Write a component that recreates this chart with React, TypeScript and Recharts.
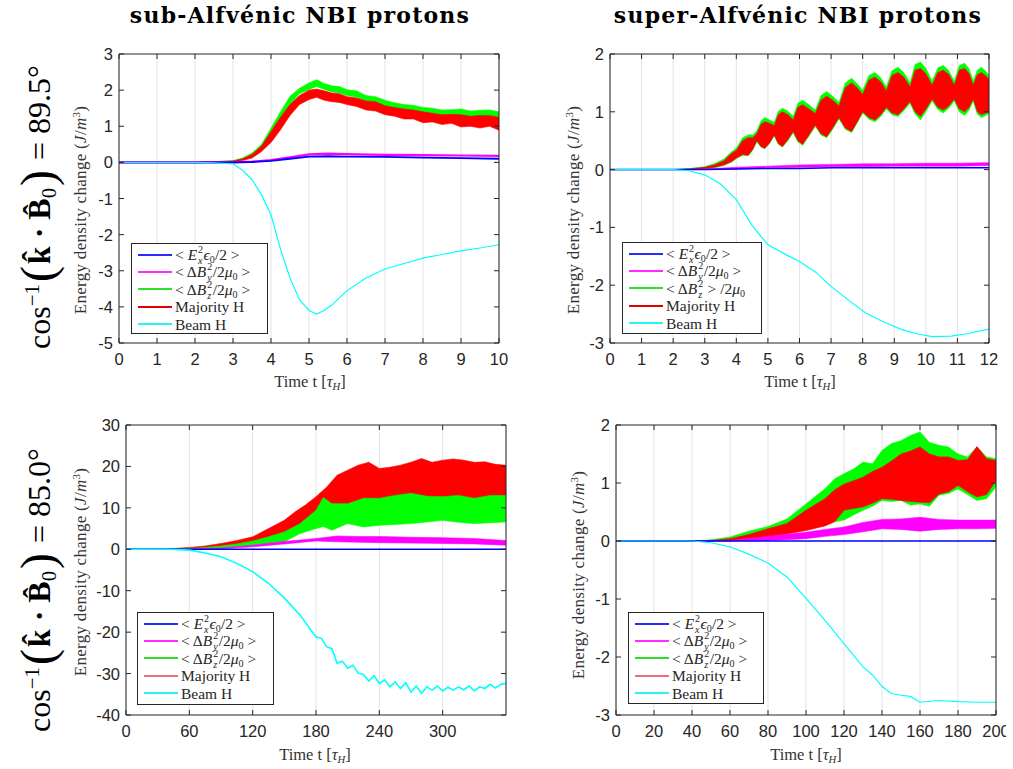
import React from 'react';
import { ComposedChart, Area, Line, XAxis, YAxis, CartesianGrid, ReferenceLine } from 'recharts';

// ---------------- Panel 1: sub-Alfvenic, 89.5 deg ----------------
const P1_BAND_T = [0, 2, 2.5, 3, 3.25, 3.5, 3.75, 4, 4.25, 4.5, 4.75, 5, 5.2, 5.4, 5.6, 5.8, 6, 6.25, 6.5, 6.75, 7, 7.25, 7.5, 7.75, 8, 8.25, 8.5, 8.75, 9, 9.25, 9.5, 9.75, 10];
const P1_GREEN_HI = [0.01, 0.01, 0.02, 0.05, 0.12, 0.26, 0.5, 0.95, 1.4, 1.83, 2.05, 2.2, 2.29, 2.18, 2.12, 2.1, 2.01, 1.98, 1.85, 1.82, 1.72, 1.65, 1.6, 1.58, 1.52, 1.5, 1.45, 1.46, 1.48, 1.42, 1.44, 1.45, 1.4];
const P1_GREEN_LO = [-0.01, -0.01, 0, 0.02, 0.08, 0.18, 0.4, 0.8, 1.2, 1.6, 1.9, 2.02, 2.1, 2.02, 1.95, 1.92, 1.85, 1.8, 1.7, 1.66, 1.56, 1.5, 1.45, 1.42, 1.37, 1.35, 1.3, 1.32, 1.3, 1.27, 1.28, 1.3, 1.24];
const P1_RED_HI = [0.01, 0.01, 0.02, 0.04, 0.1, 0.22, 0.45, 0.85, 1.25, 1.6, 1.85, 2.0, 2.03, 1.98, 1.92, 1.9, 1.82, 1.78, 1.7, 1.68, 1.57, 1.52, 1.48, 1.45, 1.4, 1.36, 1.32, 1.33, 1.32, 1.28, 1.3, 1.3, 1.25];
const P1_RED_LO = [-0.01, -0.01, 0, 0.01, 0.05, 0.12, 0.3, 0.55, 0.9, 1.3, 1.6, 1.74, 1.8, 1.72, 1.68, 1.66, 1.6, 1.55, 1.45, 1.42, 1.32, 1.28, 1.2, 1.2, 1.1, 1.12, 1.05, 1.08, 0.98, 1.0, 0.95, 1.0, 0.89];
const P1_LINE_T = [0, 3, 3.5, 4, 4.5, 5, 5.5, 6, 7, 8, 9, 10];
const P1_MAGENTA = [0, 0, 0.02, 0.06, 0.14, 0.22, 0.24, 0.23, 0.21, 0.2, 0.19, 0.18];
const P1_BLUE = [0, 0, 0.01, 0.04, 0.1, 0.16, 0.17, 0.16, 0.15, 0.13, 0.12, 0.1];
const P1_CYAN_T = [0, 2, 2.5, 3, 3.25, 3.5, 3.75, 4, 4.25, 4.5, 4.75, 5, 5.2, 5.4, 5.6, 5.8, 6, 6.5, 7, 7.5, 8, 8.5, 9, 9.5, 10];
const P1_CYAN = [0, 0, -0.01, -0.04, -0.22, -0.48, -0.9, -1.45, -2.4, -3.2, -3.8, -4.1, -4.2, -4.1, -3.95, -3.75, -3.55, -3.2, -2.95, -2.8, -2.65, -2.55, -2.45, -2.37, -2.28];

// ---------------- Panel 2: super-Alfvenic, 89.5 deg ----------------
const P2_BAND_T = [0, 2, 2.5, 3, 3.3, 3.6, 3.85, 4.0, 4.2, 4.38, 4.52, 4.65, 4.78, 4.9, 5.05, 5.2, 5.33, 5.46, 5.63, 5.8, 5.95, 6.1, 6.3, 6.5, 6.68, 6.86, 7.05, 7.25, 7.45, 7.65, 7.82, 8.0, 8.2, 8.39, 8.57, 8.75, 8.93, 9.12, 9.3, 9.5, 9.66, 9.83, 10.0, 10.2, 10.38, 10.55, 10.72, 10.9, 11.06, 11.23, 11.37, 11.5, 11.63, 11.76, 11.9, 12];
const P2_RED_HI = [0, 0, 0.01, 0.04, 0.08, 0.15, 0.28, 0.33, 0.5, 0.55, 0.55, 0.62, 0.78, 0.83, 0.8, 0.76, 0.95, 1.0, 0.95, 0.86, 1.08, 1.12, 1.05, 0.97, 1.2, 1.27, 1.2, 1.1, 1.42, 1.5, 1.42, 1.3, 1.55, 1.6, 1.52, 1.36, 1.63, 1.68, 1.6, 1.43, 1.72, 1.75, 1.66, 1.46, 1.68, 1.72, 1.65, 1.46, 1.72, 1.75, 1.66, 1.46, 1.64, 1.68, 1.62, 1.55];
const P2_RED_LO = [0, 0, 0, 0.01, 0.04, 0.08, 0.14, 0.2, 0.26, 0.25, 0.35, 0.5, 0.4, 0.37, 0.46, 0.6, 0.45, 0.4, 0.52, 0.66, 0.5, 0.44, 0.6, 0.77, 0.62, 0.57, 0.72, 0.9, 0.72, 0.66, 0.82, 1.0, 0.9, 0.86, 0.95, 1.08, 0.98, 0.95, 1.05, 1.18, 1.0, 0.92, 1.05, 1.22, 1.08, 1.03, 1.1, 1.22, 1.05, 1.0, 1.08, 1.22, 1.0, 0.95, 0.98, 1.0];
const P2_GREEN_HI = [0, 0, 0.02, 0.05, 0.1, 0.18, 0.31, 0.37, 0.55, 0.6, 0.6, 0.67, 0.84, 0.9, 0.86, 0.82, 1.01, 1.06, 1.01, 0.92, 1.15, 1.2, 1.12, 1.03, 1.28, 1.35, 1.27, 1.16, 1.5, 1.58, 1.49, 1.37, 1.63, 1.68, 1.59, 1.43, 1.71, 1.77, 1.68, 1.5, 1.82, 1.86, 1.75, 1.53, 1.76, 1.8, 1.72, 1.53, 1.8, 1.84, 1.74, 1.53, 1.72, 1.77, 1.7, 1.62];
const P2_GREEN_LO = [0, 0, 0, 0.01, 0.03, 0.07, 0.13, 0.19, 0.25, 0.24, 0.34, 0.48, 0.39, 0.36, 0.45, 0.58, 0.44, 0.39, 0.5, 0.64, 0.48, 0.42, 0.58, 0.75, 0.6, 0.55, 0.7, 0.88, 0.7, 0.64, 0.8, 0.98, 0.87, 0.83, 0.92, 1.05, 0.95, 0.92, 1.02, 1.15, 0.96, 0.86, 1.0, 1.19, 1.04, 0.98, 1.06, 1.19, 1.0, 0.94, 1.03, 1.19, 0.96, 0.9, 0.94, 0.97];
const P2_LINE_T = [0, 2.5, 3, 4, 5, 6, 7, 8, 9, 10, 11, 12];
const P2_MAGENTA_HI = [0, 0, 0.01, 0.04, 0.06, 0.08, 0.09, 0.1, 0.1, 0.11, 0.11, 0.12];
const P2_MAGENTA_LO = [0, 0, 0, 0.01, 0.03, 0.04, 0.05, 0.05, 0.06, 0.06, 0.06, 0.07];
const P2_BLUE = [0, 0, 0, 0.01, 0.02, 0.02, 0.03, 0.03, 0.03, 0.03, 0.03, 0.03];
const P2_CYAN_T = [0, 2, 2.5, 3, 3.5, 4, 4.5, 5, 5.6, 6, 6.5, 7, 7.6, 8.1, 8.6, 9.2, 9.7, 10.2, 10.8, 11.3, 12];
const P2_CYAN = [0, 0, -0.02, -0.09, -0.25, -0.52, -0.97, -1.3, -1.48, -1.59, -1.77, -2.02, -2.28, -2.48, -2.62, -2.76, -2.84, -2.89, -2.88, -2.84, -2.76];

// ---------------- Panel 3: sub-Alfvenic, 85.0 deg ----------------
const P3_RED_T = [0, 40, 60, 75, 90, 105, 120, 135, 150, 160, 170, 180, 190, 200, 210, 220, 230, 240, 250, 260, 270, 280, 290, 300, 310, 320, 330, 340, 350, 360];
const P3_RED_HI = [0, 0.1, 0.45, 0.8, 1.4, 2.1, 3.0, 5.0, 7.0, 9.0, 10.7, 12.7, 15.0, 17.9, 19.1, 20.3, 21.0, 19.5, 19.8, 20.3, 21.0, 21.9, 21.0, 21.5, 21.8, 21.5, 21.0, 21.1, 20.5, 20.3];
const P3_RED_LO = [0, 0, 0.1, 0.25, 0.45, 0.9, 1.4, 2.2, 3.0, 4.0, 5.0, 5.8, 7.5, 9.4, 10.5, 11.0, 10.5, 10.2, 10.0, 10.0, 10.0, 10.0, 10.0, 10.0, 10.0, 10.0, 10.0, 10.0, 10.0, 10.0];
const P3_GREEN_T = [0, 40, 60, 75, 90, 105, 120, 135, 150, 165, 180, 187, 195, 210, 225, 240, 255, 270, 285, 300, 315, 330, 345, 360];
const P3_GREEN_HI = [0, 0.05, 0.2, 0.45, 0.8, 1.3, 2.0, 3.0, 4.2, 6.2, 9.4, 12.5, 11.0, 11.0, 12.3, 12.3, 13.0, 13.5, 12.8, 12.7, 13.0, 12.3, 13.0, 13.0];
const P3_GREEN_LO = [0, 0, 0, 0.1, 0.3, 0.6, 1.0, 1.4, 1.8, 3.8, 5.0, 5.5, 4.6, 6.2, 5.4, 5.8, 6.0, 6.2, 6.6, 7.0, 6.5, 6.2, 6.4, 6.6];
const P3_MAG_T = [0, 60, 90, 120, 150, 180, 200, 220, 240, 270, 300, 330, 360];
const P3_MAGENTA_HI = [0, 0.05, 0.3, 1.0, 1.9, 2.6, 3.2, 3.1, 3.1, 2.9, 2.8, 2.6, 2.1];
const P3_MAGENTA_LO = [0, 0, 0.1, 0.6, 1.3, 2.0, 1.8, 1.7, 1.6, 1.5, 1.4, 1.3, 1.0];
const P3_BLUE_T = [0, 360];
const P3_BLUE = [0, 0];
const P3_CYAN_T = [0, 40, 60, 75, 90, 105, 120, 135, 150, 165, 175, 180, 185, 190, 195, 200, 205, 210, 215, 220, 225, 230, 235, 240, 245, 250, 255, 260, 265, 270, 275, 280, 285, 290, 295, 300, 305, 310, 315, 320, 325, 330, 335, 340, 345, 350, 355, 360];
const P3_CYAN = [0, 0, -0.2, -0.9, -1.8, -3.4, -5.4, -8.2, -11.8, -15.9, -19.5, -21.1, -21.5, -23.5, -24.0, -27.5, -27.0, -28.7, -28.0, -29.9, -30.2, -31.8, -30.5, -32.4, -31.5, -33.2, -32.0, -33.6, -32.2, -34.5, -33.0, -34.8, -33.2, -34.0, -33.0, -34.2, -33.3, -34.0, -33.2, -33.9, -33.0, -34.2, -33.2, -33.6, -32.6, -33.5, -32.6, -32.4];

// ---------------- Panel 4: super-Alfvenic, 85.0 deg ----------------
const P4_BAND_T = [0, 40, 50, 60, 70, 80, 90, 100, 110, 115, 120, 125, 130, 135, 140, 145, 150, 155, 160, 165, 170, 175, 180, 185, 190, 195, 200];
const P4_GREEN_HI = [0, 0, 0.02, 0.07, 0.17, 0.25, 0.38, 0.64, 0.9, 1.07, 1.16, 1.24, 1.36, 1.33, 1.56, 1.68, 1.73, 1.82, 1.88, 1.7, 1.65, 1.62, 1.5, 1.45, 1.62, 1.45, 1.42];
const P4_GREEN_LO = [0, 0, 0, 0.01, 0.05, 0.1, 0.15, 0.21, 0.3, 0.33, 0.36, 0.45, 0.53, 0.6, 0.7, 0.68, 0.7, 0.62, 0.64, 0.6, 0.79, 0.82, 0.9, 0.8, 0.7, 0.73, 0.93];
const P4_RED_HI = [0, 0, 0.01, 0.04, 0.11, 0.21, 0.3, 0.53, 0.73, 0.88, 0.98, 1.04, 1.1, 1.2, 1.27, 1.38, 1.5, 1.55, 1.62, 1.5, 1.45, 1.45, 1.39, 1.4, 1.63, 1.42, 1.39];
const P4_RED_LO = [0, 0, 0, 0, 0.03, 0.07, 0.12, 0.18, 0.26, 0.33, 0.53, 0.56, 0.59, 0.65, 0.73, 0.72, 0.7, 0.68, 0.67, 0.66, 0.81, 0.85, 0.96, 0.85, 0.76, 0.8, 1.04];
const P4_MAG_T = [0, 40, 60, 80, 100, 110, 120, 130, 140, 150, 160, 170, 180, 190, 200];
const P4_MAGENTA_HI = [0, 0, 0.01, 0.08, 0.15, 0.2, 0.24, 0.32, 0.37, 0.38, 0.41, 0.37, 0.36, 0.36, 0.36];
const P4_MAGENTA_LO = [0, 0, 0, 0.01, 0.04, 0.08, 0.11, 0.16, 0.21, 0.2, 0.17, 0.2, 0.21, 0.21, 0.22];
const P4_BLUE_T = [0, 200];
const P4_BLUE = [0, 0];
const P4_CYAN_T = [0, 40, 50, 60, 70, 80, 90, 100, 110, 120, 130, 135, 140, 145, 150, 155, 160, 170, 180, 190, 200];
const P4_CYAN = [0, 0, -0.03, -0.1, -0.23, -0.38, -0.62, -0.99, -1.37, -1.77, -2.17, -2.31, -2.51, -2.63, -2.66, -2.68, -2.78, -2.75, -2.77, -2.78, -2.78];

// ---------------- Ticks ----------------
const P1_XTICKS = [0, 1, 2, 3, 4, 5, 6, 7, 8, 9, 10];
const P1_YTICKS = [-5, -4, -3, -2, -1, 0, 1, 2, 3];
const P2_XTICKS = [0, 1, 2, 3, 4, 5, 6, 7, 8, 9, 10, 11, 12];
const P2_YTICKS = [-3, -2, -1, 0, 1, 2];
const P3_XTICKS = [0, 60, 120, 180, 240, 300];
const P3_YTICKS = [-40, -30, -20, -10, 0, 10, 20, 30];
const P4_XTICKS = [0, 20, 40, 60, 80, 100, 120, 140, 160, 180, 200];
const P4_YTICKS = [-3, -2, -1, 0, 1, 2];

const AX = '#262626';
const GRID = '#e2e2e2';
const SERIF = '"Liberation Serif", "Times New Roman", serif';
const SANS = '"Liberation Sans", Arial, sans-serif';

const band = (t: number[], lo: number[], hi: number[]) => t.map((x, i) => ({ t: x, v: [lo[i], hi[i]] }));
const line = (t: number[], v: number[]) => t.map((x, i) => ({ t: x, v: v[i] }));

type S = { kind: 'band' | 'line'; data: any[]; color: string; width?: number };

const ML = 50;
const MT = 10;

function Panel(props: {
  left: number; top: number; w: number; h: number;
  xDomain: [number, number]; xTicks: number[];
  yDomain: [number, number]; yTicks: number[];
  series: S[];
}) {
  const { left, top, w, h, xDomain, xTicks, yDomain, yTicks, series } = props;
  const width = ML + w + 10;
  const height = MT + h + 30;
  const axY = MT + h;
  const rightX = ML + w;
  const XTick = (p: any) => (
    <g>
      <line x1={p.x} x2={p.x} y1={axY} y2={axY - 5} stroke={AX} strokeWidth={1} />
      <line x1={p.x} x2={p.x} y1={MT} y2={MT + 5} stroke={AX} strokeWidth={1} />
      <text x={p.x} y={axY + 22} textAnchor="middle" fontFamily={SANS} fontSize={16.5} fill={AX}>{p.payload.value}</text>
    </g>
  );
  const YTick = (p: any) => (
    <g>
      <line x1={ML} x2={ML + 5} y1={p.y} y2={p.y} stroke={AX} strokeWidth={1} />
      <line x1={rightX} x2={rightX - 5} y1={p.y} y2={p.y} stroke={AX} strokeWidth={1} />
      <text x={ML - 6} y={p.y + 6} textAnchor="end" fontFamily={SANS} fontSize={16.5} fill={AX}>{p.payload.value}</text>
    </g>
  );
  return (
    <div style={{ position: 'absolute', left: left - ML, top: top - MT }}>
      <ComposedChart width={width} height={height} margin={{ top: MT, right: 10, bottom: 0, left: 0 }}>
        <CartesianGrid horizontal={false} stroke={GRID} strokeWidth={1} />
        <XAxis dataKey="t" type="number" domain={xDomain} ticks={xTicks} interval={0} allowDataOverflow
          height={30} tickLine={false} tickSize={0} axisLine={{ stroke: AX }} tick={XTick} />
        <YAxis type="number" domain={yDomain} ticks={yTicks} interval={0} allowDataOverflow
          width={ML} tickLine={false} tickSize={0} axisLine={{ stroke: AX }} tick={YTick} />
        {series.map((s, i) =>
          s.kind === 'band' ? (
            <Area key={i} data={s.data} dataKey="v" type="linear" stroke={s.color} strokeWidth={0.6}
              fill={s.color} fillOpacity={1} isAnimationActive={false} dot={false} activeDot={false} />
          ) : (
            <Line key={i} data={s.data} dataKey="v" type="linear" stroke={s.color} strokeWidth={s.width || 1}
              dot={false} activeDot={false} isAnimationActive={false} />
          )
        )}
        <ReferenceLine y={yDomain[1]} stroke={AX} strokeWidth={1} />
        <ReferenceLine x={xDomain[1]} stroke={AX} strokeWidth={1} />
      </ComposedChart>
    </div>
  );
}

// stacked superscript / subscript (LaTeX style x_a^b)
const SS = ({ sup, sub }: { sup: React.ReactNode; sub: React.ReactNode }) => (
  <span style={{ position: 'relative', display: 'inline-block', width: '0.42em', height: 0, verticalAlign: 'baseline' }}>
    <span style={{ position: 'absolute', left: 1, top: '-1.5em', fontSize: '0.65em', lineHeight: 1 }}>{sup}</span>
    <span style={{ position: 'absolute', left: 1, top: '-0.42em', fontSize: '0.65em', lineHeight: 1 }}>{sub}</span>
  </span>
);
const Sub = ({ children }: { children: React.ReactNode }) => (
  <span style={{ fontSize: '0.65em', position: 'relative', top: '0.3em' }}>{children}</span>
);
const Sup = ({ children }: { children: React.ReactNode }) => (
  <span style={{ fontSize: '0.65em', position: 'relative', top: '-0.55em' }}>{children}</span>
);

const LBL_EX = <>&lt; <i>E</i><SS sup="2" sub={<i>x</i>} /><i>ϵ</i><Sub>0</Sub>/2 &gt;</>;
const LBL_BY = <>&lt; Δ<i>B</i><SS sup="2" sub={<i>y</i>} />/2<i>μ</i><Sub>0</Sub> &gt;</>;
const LBL_BZ = <>&lt; Δ<i>B</i><SS sup="2" sub={<i>z</i>} />/2<i>μ</i><Sub>0</Sub> &gt;</>;
const LBL_BZ2 = <>&lt; Δ<i>B</i><SS sup="2" sub={<i>z</i>} /> &gt; /2<i>μ</i><Sub>0</Sub></>;

function LegendBox(props: { left: number; top: number; w: number; h: number; bz: React.ReactNode; red: string }) {
  const items: [string, React.ReactNode][] = [
    ['#2a2aff', LBL_EX],
    ['#ff2aff', LBL_BY],
    ['#2ae02a', props.bz],
    [props.red, 'Majority H'],
    ['#2af2f2', 'Beam H'],
  ];
  return (
    <div style={{ position: 'absolute', left: props.left, top: props.top, width: props.w, height: props.h, border: `1px solid ${AX}`, background: '#fff', boxSizing: 'border-box', overflow: 'hidden', paddingTop: 2 }}>
      {items.map(([c, l], i) => (
        <div key={i} style={{ display: 'flex', alignItems: 'center', height: 17.4, whiteSpace: 'nowrap', fontFamily: SERIF, fontSize: 15.5, color: AX, lineHeight: 1 }}>
          <div style={{ width: 34, height: 2, background: c, marginLeft: 6, marginRight: 3, flex: 'none' }} />
          <span>{l}</span>
        </div>
      ))}
    </div>
  );
}

function Rot(props: { cx: number; cy: number; size: number; children: React.ReactNode; color?: string; ls?: number }) {
  return (
    <div style={{ position: 'absolute', left: props.cx, top: props.cy, transform: 'translate(-50%, -50%) rotate(-90deg)', whiteSpace: 'nowrap', fontFamily: SERIF, fontSize: props.size, color: props.color || '#000', lineHeight: 1, letterSpacing: props.ls || 0 }}>
      {props.children}
    </div>
  );
}

function Center(props: { cx: number; cy: number; size: number; bold?: boolean; children: React.ReactNode; color?: string; ls?: number }) {
  return (
    <div style={{ position: 'absolute', left: props.cx, top: props.cy, transform: 'translate(-50%, -50%)', whiteSpace: 'nowrap', fontFamily: props.bold ? '"DejaVu Serif", serif' : SERIF, fontWeight: props.bold ? 'bold' : 'normal', fontSize: props.size, color: props.color || '#000', lineHeight: 1, letterSpacing: props.ls || 0 }}>
      {props.children}
    </div>
  );
}

const YTITLE = <>Energy density change (<i>J</i>/<i>m</i><Sup>3</Sup>)</>;
const XTITLE = <>Time t [<i>τ</i><Sub><i>H</i></Sub>]</>;
const rowLabel = (deg: string) => (
  <>cos<Sup>−1</Sup><span style={{ fontSize: '1.5em', verticalAlign: '-0.08em', margin: '0 2px' }}>(</span><b>k̂ · B̂</b><Sub>0</Sub><span style={{ fontSize: '1.5em', verticalAlign: '-0.08em', margin: '0 2px' }}>)</span> = {deg}°</>
);

export default function App() {
  const p1: S[] = [
    { kind: 'band', data: band(P1_BAND_T, P1_GREEN_LO, P1_GREEN_HI), color: '#00ff00' },
    { kind: 'band', data: band(P1_BAND_T, P1_RED_LO, P1_RED_HI), color: '#ff0000' },
    { kind: 'line', data: line(P1_LINE_T, P1_MAGENTA), color: '#ff00ff', width: 2.2 },
    { kind: 'line', data: line(P1_LINE_T, P1_BLUE), color: '#0000ff', width: 1.8 },
    { kind: 'line', data: line(P1_CYAN_T, P1_CYAN), color: '#00ffff', width: 1.2 },
  ];
  const p2: S[] = [
    { kind: 'band', data: band(P2_BAND_T, P2_GREEN_LO, P2_GREEN_HI), color: '#00ff00' },
    { kind: 'band', data: band(P2_BAND_T, P2_RED_LO, P2_RED_HI), color: '#ff0000' },
    { kind: 'band', data: band(P2_LINE_T, P2_MAGENTA_LO, P2_MAGENTA_HI), color: '#ff00ff' },
    { kind: 'line', data: line(P2_LINE_T, P2_BLUE), color: '#0000ff', width: 1.5 },
    { kind: 'line', data: line(P2_CYAN_T, P2_CYAN), color: '#00ffff', width: 1.2 },
  ];
  const p3: S[] = [
    { kind: 'band', data: band(P3_RED_T, P3_RED_LO, P3_RED_HI), color: '#ff0000' },
    { kind: 'band', data: band(P3_GREEN_T, P3_GREEN_LO, P3_GREEN_HI), color: '#00ff00' },
    { kind: 'band', data: band(P3_MAG_T, P3_MAGENTA_LO, P3_MAGENTA_HI), color: '#ff00ff' },
    { kind: 'line', data: line(P3_BLUE_T, P3_BLUE), color: '#0000ff', width: 1.5 },
    { kind: 'line', data: line(P3_CYAN_T, P3_CYAN), color: '#00ffff', width: 1.6 },
  ];
  const p4: S[] = [
    { kind: 'band', data: band(P4_BAND_T, P4_GREEN_LO, P4_GREEN_HI), color: '#00ff00' },
    { kind: 'band', data: band(P4_BAND_T, P4_RED_LO, P4_RED_HI), color: '#ff0000' },
    { kind: 'band', data: band(P4_MAG_T, P4_MAGENTA_LO, P4_MAGENTA_HI), color: '#ff00ff' },
    { kind: 'line', data: line(P4_BLUE_T, P4_BLUE), color: '#0000ff', width: 1.5 },
    { kind: 'line', data: line(P4_CYAN_T, P4_CYAN), color: '#00ffff', width: 1.2 },
  ];
  return (
    <div style={{ position: 'absolute', left: 0, top: 0, width: 1013, height: 769, background: '#fff', overflow: 'hidden' }}>
      <Center cx={300} cy={15} size={22} bold ls={1.2}>sub-Alfvénic NBI protons</Center>
      <Center cx={798} cy={15} size={22} bold ls={1.2}>super-Alfvénic NBI protons</Center>

      <Panel left={119} top={54} w={380} h={289} xDomain={[0, 10]} xTicks={P1_XTICKS} yDomain={[-5, 3]} yTicks={P1_YTICKS} series={p1} />
      <Panel left={610} top={54} w={379} h={289} xDomain={[0, 12]} xTicks={P2_XTICKS} yDomain={[-3, 2]} yTicks={P2_YTICKS} series={p2} />
      <Panel left={126} top={425} w={380} h={290} xDomain={[0, 360]} xTicks={P3_XTICKS} yDomain={[-40, 30]} yTicks={P3_YTICKS} series={p3} />
      <Panel left={616} top={425} w={380} h={290} xDomain={[0, 200]} xTicks={P4_XTICKS} yDomain={[-3, 2]} yTicks={P4_YTICKS} series={p4} />

      <LegendBox left={131} top={243} w={137} h={91} bz={LBL_BZ} red="#e00000" />
      <LegendBox left={622} top={242} w={140} h={92} bz={LBL_BZ2} red="#e00000" />
      <LegendBox left={137} top={612} w={137} h={93} bz={LBL_BZ} red="#f26d6d" />
      <LegendBox left={628} top={612} w={136} h={92} bz={LBL_BZ} red="#f26d6d" />

      <Center cx={310} cy={382} size={16.5} color="#333">{XTITLE}</Center>
      <Center cx={800} cy={382} size={16.5} color="#333">{XTITLE}</Center>
      <Center cx={315} cy={755} size={16.5} color="#333">{XTITLE}</Center>
      <Center cx={806} cy={755} size={16.5} color="#333">{XTITLE}</Center>

      <Rot cx={80} cy={210} size={17} ls={0.3} color="#333">{YTITLE}</Rot>
      <Rot cx={573} cy={210} size={17} ls={0.3} color="#333">{YTITLE}</Rot>
      <Rot cx={80} cy={572} size={17} ls={0.3} color="#333">{YTITLE}</Rot>
      <Rot cx={578} cy={575} size={17} ls={0.3} color="#333">{YTITLE}</Rot>

      <Rot cx={38} cy={207} size={32}>{rowLabel('89.5')}</Rot>
      <Rot cx={38} cy={590} size={32}>{rowLabel('85.0')}</Rot>
    </div>
  );
}
